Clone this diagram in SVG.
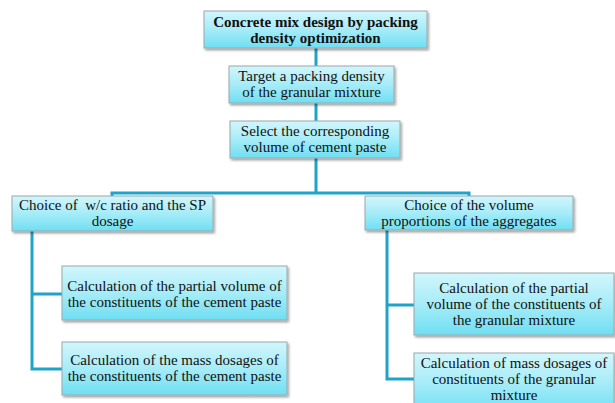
<svg xmlns="http://www.w3.org/2000/svg" width="615" height="403" viewBox="0 0 615 403">
<defs>
<linearGradient id="g" x1="0" y1="0" x2="0" y2="1">
<stop offset="0" stop-color="#d2f6fc"/>
<stop offset="0.5" stop-color="#a6ecf8"/>
<stop offset="1" stop-color="#6fdff2"/>
</linearGradient>
<filter id="sh" x="-10%" y="-20%" width="120%" height="150%">
<feDropShadow dx="1.5" dy="2" stdDeviation="1.2" flood-color="#000" flood-opacity="0.35"/>
</filter>
</defs>
<style>
.box{fill:url(#g);stroke:#9aa8ab;stroke-width:1;filter:url(#sh)}
.t{font-family:'Liberation Serif','DejaVu Serif',serif;font-size:15px;fill:#111;text-anchor:middle}
.b{font-weight:bold}
.c{fill:none;stroke:#1fa3c8;stroke-width:3}
</style>
<g id="connectors">
<path class="c" d="M316 48V66M316 103V121M316 158V193M112 196V193H469V196"/>
<path class="c" d="M32 231V294H62M32 294V369H62"/>
<path class="c" d="M387 230V305H414M387 305V379H414"/>
</g>
<g id="n1"><rect class="box" x="204" y="11" width="223" height="37"/>
<text class="t b" x="315.5" y="27">Concrete mix design by packing</text>
<text class="t b" x="315.5" y="43">density optimization</text></g>
<g id="n2"><rect class="box" x="229" y="66" width="165" height="37"/>
<text class="t" x="311.5" y="81">Target a packing density</text>
<text class="t" x="311.5" y="97">of the granular mixture</text></g>
<g id="n3"><rect class="box" x="230" y="121" width="170" height="37"/>
<text class="t" x="315" y="136">Select the corresponding</text>
<text class="t" x="315" y="152">volume of cement paste</text></g>
<g id="n4"><rect class="box" x="12" y="196" width="201" height="35"/>
<text class="t" x="112.5" y="210" xml:space="preserve">Choice of  w/c ratio and the SP</text>
<text class="t" x="112.5" y="226">dosage</text></g>
<g id="n5"><rect class="box" x="62" y="266" width="225" height="54"/>
<text class="t" x="174.5" y="291">Calculation of the partial volume of</text>
<text class="t" x="174.5" y="307">the constituents of the cement paste</text></g>
<g id="n6"><rect class="box" x="62" y="342" width="225" height="53"/>
<text class="t" x="174.5" y="365">Calculation of the mass dosages of</text>
<text class="t" x="174.5" y="381">the constituents of the cement paste</text></g>
<g id="n7"><rect class="box" x="365" y="196" width="208" height="34"/>
<text class="t" x="469" y="210">Choice of the volume</text>
<text class="t" x="469" y="226">proportions of the aggregates</text></g>
<g id="n8"><rect class="box" x="414" y="273" width="200" height="62"/>
<text class="t" x="514" y="293">Calculation of the partial</text>
<text class="t" x="514" y="309">volume of the constituents of</text>
<text class="t" x="514" y="325">the granular mixture</text></g>
<g id="n9"><rect class="box" x="414" y="353" width="200" height="60"/>
<text class="t" x="514" y="368">Calculation of mass dosages of</text>
<text class="t" x="514" y="384">constituents of the granular</text>
<text class="t" x="514" y="400">mixture</text></g>
</svg>
